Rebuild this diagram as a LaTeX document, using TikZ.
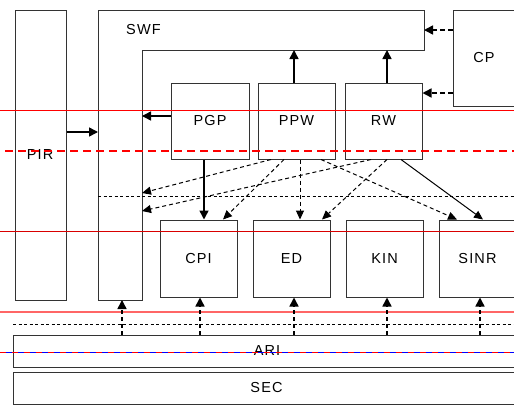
\documentclass[tikz,border=0pt]{standalone}
\usepackage{fontspec}
\setmainfont{Liberation Sans}[LetterSpace=8]
\usetikzlibrary{arrows.meta}
\begin{document}
\begin{tikzpicture}[x=1pt,y=-1pt,
  font=\fontsize{14.5}{17}\selectfont,
  box/.style={draw=black!80, line width=1pt, inner sep=0pt, fill=white},
  sarr/.style={-{Triangle[length=9pt,width=9pt]}, line width=1.5pt, black},
  tarr/.style={-{Triangle[length=9pt,width=8pt]}, line width=1pt, black},
  darr/.style={-{Triangle[length=9pt,width=8pt]}, line width=1pt, black, dash pattern=on 4pt off 3pt},
  uarr/.style={-{Triangle[length=9pt,width=9pt]}, line width=1.5pt, black, dash pattern=on 4pt off 3pt},
  carr/.style={-{Triangle[length=9pt,width=9pt]}, line width=1.5pt, black, dash pattern=on 5pt off 3pt}]
\useasboundingbox (0,0) rectangle (514,410);
\fill[white] (0,0) rectangle (514,410);

% big boxes
\node[box, minimum width=51pt, minimum height=290pt] (PIR) at (40.5,155) {};
\node at (40,155) (PIRt) {PIR};
\draw[black!80, line width=1pt] (98,10) -- (424,10) -- (424,50) -- (142,50) -- (142,300) -- (98,300) -- cycle;
\node (SWF) at (143.5,30) {SWF};
\node[box, minimum width=64pt, minimum height=96pt] (CP) at (485,58) {};
\node (CPt) at (484,58) {CP};

\node[box, minimum width=78pt, minimum height=76pt] (PGP) at (210,121) {PGP};
\node[box, minimum width=77pt, minimum height=76pt] (PPW) at (296.5,121) {PPW};
\node[box, minimum width=77pt, minimum height=76pt] (RW) at (383.5,121) {RW};

\node[box, minimum width=77pt, minimum height=77pt] (CPI) at (198.5,258.5) {CPI};
\node[box, minimum width=77pt, minimum height=77pt] (ED) at (291.5,258.5) {ED};
\node[box, minimum width=77pt, minimum height=77pt] (KIN) at (384.5,258.5) {KIN};
\node[box, minimum width=77pt, minimum height=77pt] (SINR) at (477.5,258.5) {SINR};

\node[box, minimum width=507pt, minimum height=32pt] (ARI) at (266.5,351) {};
\node (ARIt) at (267,351) {ARI};
\node[box, minimum width=507pt, minimum height=32pt] (SEC) at (266.5,388) {SEC};

% SWF anchor points
\coordinate (swfL) at (98,132);
\coordinate (swfI1) at (142,116);
\coordinate (swfI2) at (142,193);
\coordinate (swfI3) at (142,211);
\coordinate (swfB1) at (294,50);
\coordinate (swfB2) at (387,50);
\coordinate (swfR) at (424,30);
\coordinate (swfD) at (122,300);
\coordinate (cpr) at (0,93);

% horizontal guide lines
\draw[red, line width=0.9pt] (0,110) -- (514,110);
\draw[red, line width=2pt, dash pattern=on 8pt off 5pt] (5,151) -- (514,151);
\draw[black, line width=0.9pt, dash pattern=on 3pt off 2.5pt] (98,196) -- (514,196);
\draw[red!85!black, line width=0.8pt] (0,231) -- (514,231);
\draw[red!60, line width=1.2pt] (0,312) -- (514,312);
\draw[black, line width=0.9pt, dash pattern=on 3pt off 2.5pt] (13,324) -- (514,324);
\draw[blue, line width=1pt] (0,352) -- (514,352);
\draw[red, line width=1pt, dash pattern=on 6pt off 6pt] (0,352) -- (514,352);

% arrows top area
\draw[sarr] (PIR.east |- swfL) -- (swfL);
\draw[sarr] (PGP.west |- swfI1) -- (swfI1);
\draw[sarr] (PPW.north -| swfB1) -- (swfB1);
\draw[sarr] (RW.north -| swfB2) -- (swfB2);
\draw[carr] (CP.west |- swfR) -- (swfR);
\draw[carr] (CP.west |- cpr) -- (RW.east |- cpr);

% middle arrows
\draw[sarr] ([xshift=-6pt]PGP.south) -- ([xshift=5.5pt]CPI.north);
\draw[darr] ([xshift=-25.5pt]PPW.south) -- (swfI2);
\draw[darr] ([xshift=-12.5pt]PPW.south) -- ([xshift=24.5pt]CPI.north);
\draw[darr] ([xshift=3.5pt]PPW.south) -- ([xshift=8.5pt]ED.north);
\draw[darr] ([xshift=24.5pt]PPW.south) -- ([xshift=-20.5pt]SINR.north);
\draw[darr] ([xshift=-12.5pt]RW.south) -- (swfI3);
\draw[darr] ([xshift=3.5pt]RW.south) -- ([xshift=30.5pt]ED.north);
\draw[tarr] ([xshift=17.5pt]RW.south) -- ([xshift=5.5pt]SINR.north);

% upward arrows from ARI
\draw[uarr] (ARI.north -| swfD) -- (swfD);
\draw[uarr] ([xshift=1.5pt]CPI.south |- ARI.north) -- ([xshift=1.5pt]CPI.south);
\draw[uarr] ([xshift=2.5pt]ED.south |- ARI.north) -- ([xshift=2.5pt]ED.south);
\draw[uarr] ([xshift=2.5pt]KIN.south |- ARI.north) -- ([xshift=2.5pt]KIN.south);
\draw[uarr] ([xshift=2.5pt]SINR.south |- ARI.north) -- ([xshift=2.5pt]SINR.south);
\end{tikzpicture}
\end{document}
